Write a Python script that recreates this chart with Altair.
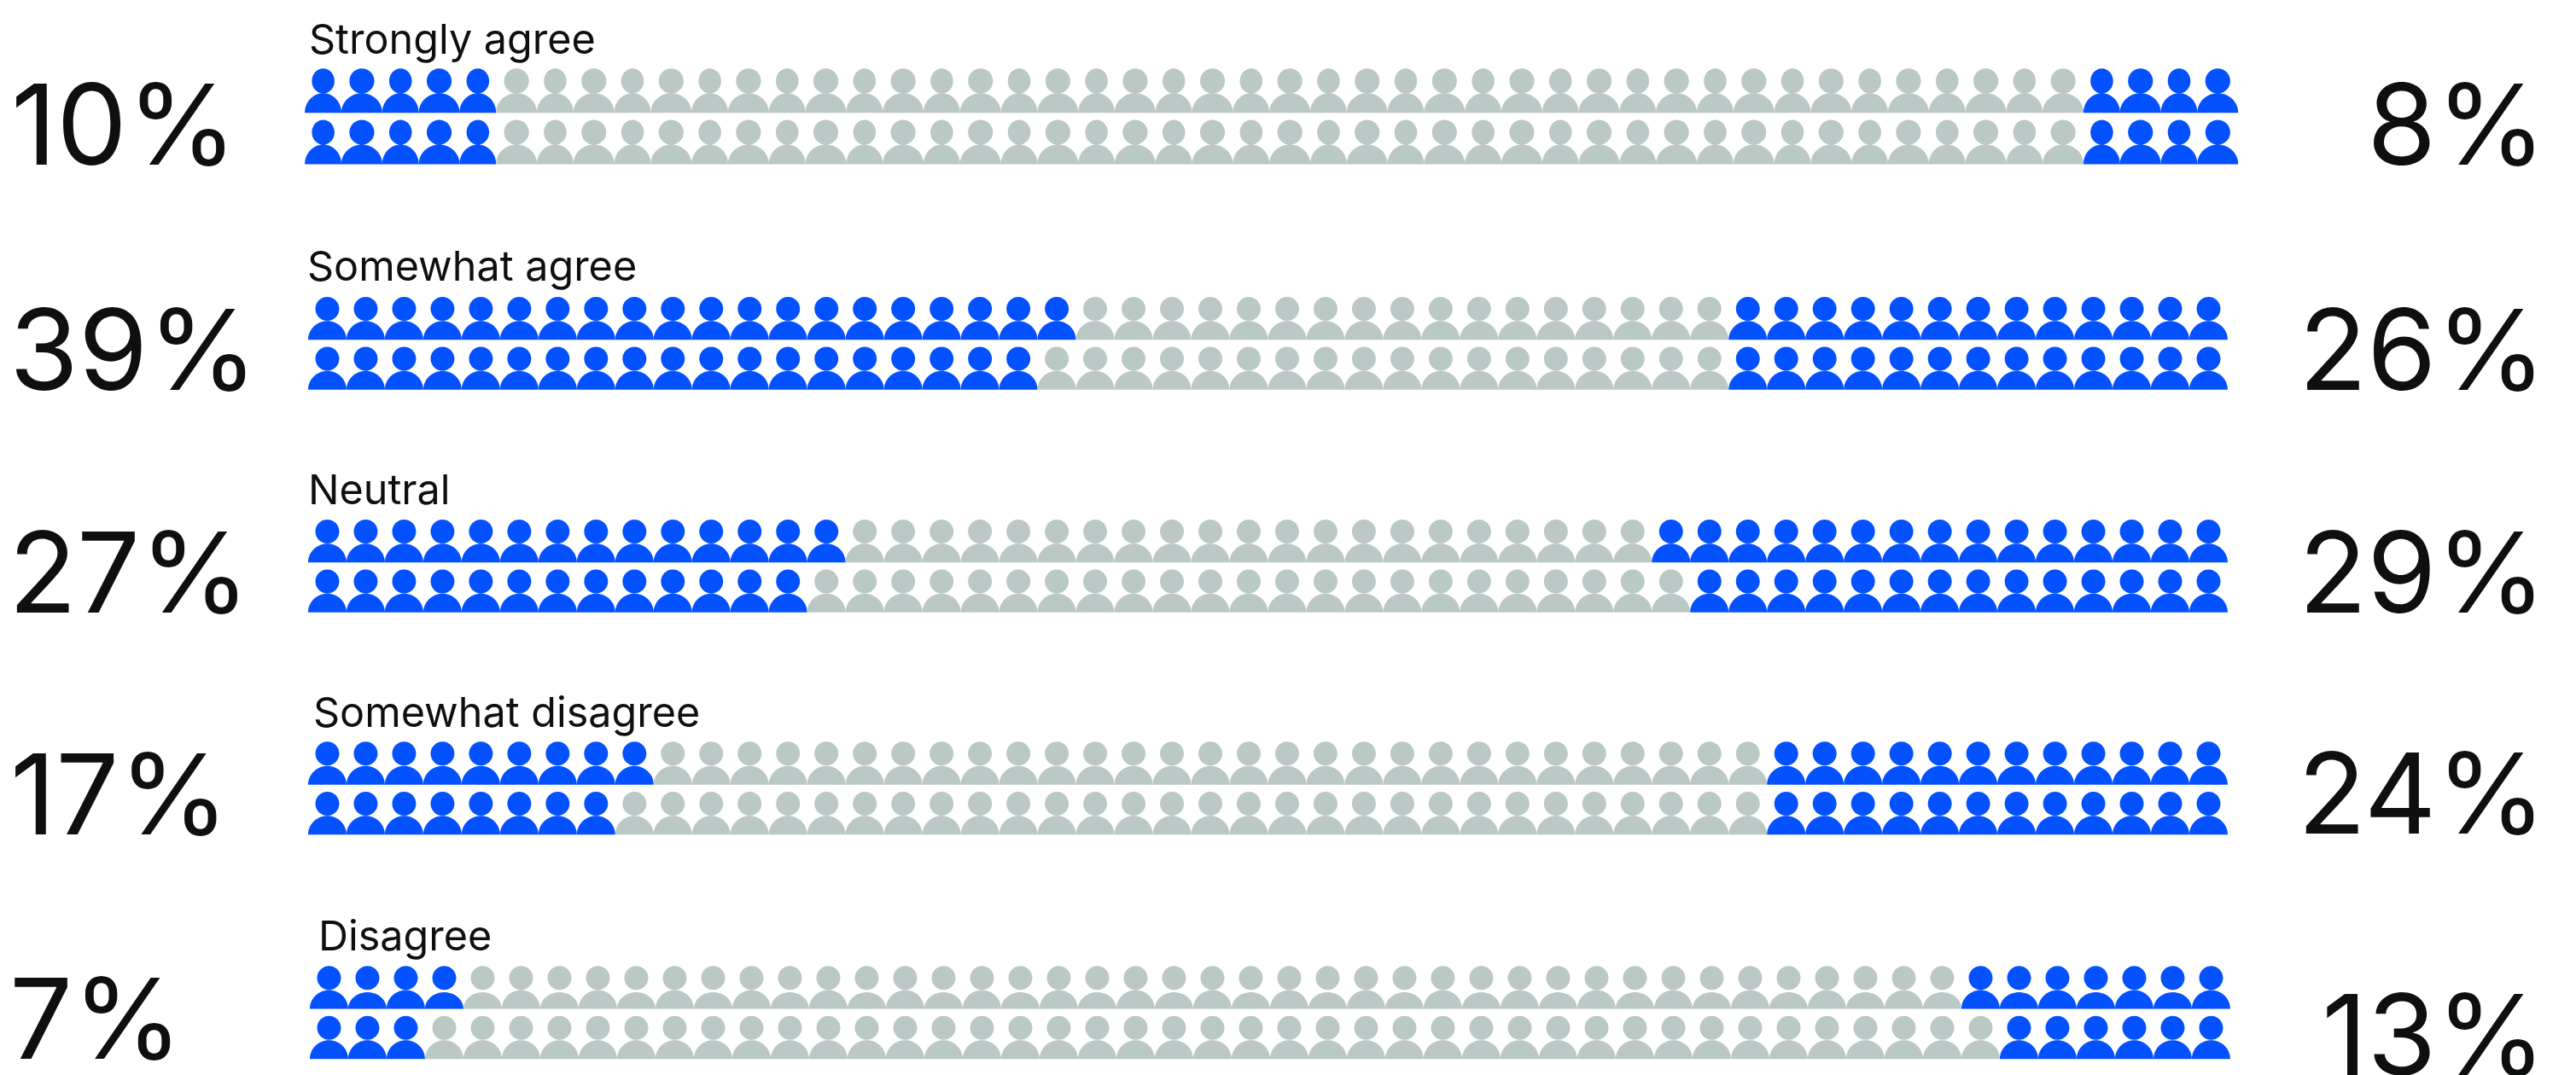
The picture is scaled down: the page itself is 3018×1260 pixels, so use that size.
import altair as alt
import pandas as pd

# ---- data ----
categories = ["Strongly agree", "Somewhat agree", "Neutral", "Somewhat disagree", "Disagree"]
left_pct = ["10%", "39%", "27%", "17%", "7%"]
right_pct = ["8%", "26%", "29%", "24%", "13%"]
left_top = [5, 20, 14, 9, 4]
left_bottom = [5, 19, 13, 8, 3]
right_top = [4, 13, 15, 12, 7]
right_bottom = [4, 13, 14, 12, 6]
people_per_lane = 50

# ---- layout (page pixels) ----
ORIGIN = 8
x_ranges = [(356, 2621), (361, 2610), (361, 2610), (361, 2610), (363, 2613)]
y_ranges = [(106.3, 166.5), (373.2, 431.7), (634.2, 692.7), (894.5, 953.2), (1157.4, 1216)]
label_x = [362, 360, 361, 367, 373]
label_y = [62.7, 329.3, 591, 852, 1114]
left_x = [13, 11, 10, 12, 11]
left_y = [193, 457, 718, 978, 1241]
right_x = [2983, 2983, 2983, 2983, 2983]
right_y = [193, 457, 718, 977, 1260]
BLUE, GREY, INK = "#0451ff", "#bac8c6", "#0d0f10"
FONT = "Inter"

K = 0.5523


def ell(cx, cy, rx, ry):
    return (f"M{cx-rx:.4f},{cy:.4f}"
            f"C{cx-rx:.4f},{cy-K*ry:.4f} {cx-K*rx:.4f},{cy-ry:.4f} {cx:.4f},{cy-ry:.4f}"
            f"C{cx+K*rx:.4f},{cy-ry:.4f} {cx+rx:.4f},{cy-K*ry:.4f} {cx+rx:.4f},{cy:.4f}"
            f"C{cx+rx:.4f},{cy+K*ry:.4f} {cx+K*rx:.4f},{cy+ry:.4f} {cx:.4f},{cy+ry:.4f}"
            f"C{cx-K*rx:.4f},{cy+ry:.4f} {cx-rx:.4f},{cy+K*ry:.4f} {cx-rx:.4f},{cy:.4f}Z")


def dome(cx, base, rx, ry):
    return (f"M{cx-rx:.4f},{base:.4f}"
            f"C{cx-rx:.4f},{base-K*ry:.4f} {cx-K*rx:.4f},{base-ry:.4f} {cx:.4f},{base-ry:.4f}"
            f"C{cx+K*rx:.4f},{base-ry:.4f} {cx+rx:.4f},{base-K*ry:.4f} {cx+rx:.4f},{base:.4f}Z")


def glyph(head_rx, head_ry, body_rx, body_ry, h):
    # pixel measures, 25 px = one path unit at size 2500
    top, base = -h / 2, h / 2
    return (ell(0, (top + head_ry) / 25, head_rx / 25, head_ry / 25)
            + dome(0, base / 25, body_rx / 25, body_ry / 25))


glyphs = {
    "regular": glyph(14, 14, 22.5, 22, 50.3),
    "narrow": glyph(13.3, 14.6, 21.5, 23, 52),
    "wide": glyph(14.6, 14.6, 24, 23, 52),
    "low": glyph(14, 14, 22.5, 19.5, 50.3),
}

rows = []
for r, cat in enumerate(categories):
    records = []
    for lane, (nl, nr) in enumerate([(left_top[r], right_top[r]),
                                     (left_bottom[r], right_bottom[r])]):
        for col in range(people_per_lane):
            blue = col < nl or col >= people_per_lane - nr
            if r == 0:
                g = "narrow" if col % 2 == 0 else "wide"
            elif r == 4 and lane == 0:
                g = "low" if (col % 2 == 1) == (col < 4) else "regular"
            else:
                g = "regular"
            records.append({"col": col + 0.5, "lane": lane,
                            "group": "highlight" if blue else "rest", "glyph": g})
    xr = x_ranges[r]
    yr = y_ranges[r]
    rows.append(
        alt.Chart(pd.DataFrame(records))
        .mark_point(filled=True, opacity=1, strokeWidth=0, size=2500)
        .encode(
            x=alt.X("col:Q", axis=None,
                    scale=alt.Scale(domain=[0, people_per_lane], nice=False, zero=False,
                                    range=[xr[0] - ORIGIN, xr[1] - ORIGIN])),
            y=alt.Y("lane:Q", axis=None,
                    scale=alt.Scale(domain=[0, 1], nice=False, zero=False,
                                    range=[yr[0] - ORIGIN, yr[1] - ORIGIN])),
            color=alt.Color("group:N", legend=None,
                            scale=alt.Scale(domain=["highlight", "rest"], range=[BLUE, GREY])),
            shape=alt.Shape("glyph:N", legend=None,
                            scale=alt.Scale(domain=list(glyphs), range=list(glyphs.values()))),
        )
    )


def text_layer(values, xs, ys, size, align):
    layers = []
    for v, x, y in zip(values, xs, ys):
        layers.append(
            alt.Chart(pd.DataFrame({"t": [v]}))
            .mark_text(font=FONT, fontSize=size, color=INK, align=align,
                       baseline="alphabetic")
            .encode(text="t:N", x=alt.value(x - ORIGIN), y=alt.value(y - ORIGIN))
        )
    return layers


texts = (text_layer(categories, label_x, label_y, 48.5, "left")
         + text_layer(left_pct, left_x, left_y, 131, "left")
         + text_layer(right_pct, right_x, right_y, 131, "right"))

chart = (
    alt.layer(*rows, *texts)
    .resolve_scale(x="independent", y="independent", color="shared", shape="shared")
    .properties(width=3002, height=1252, padding=0, autosize=alt.AutoSizeParams(type="none"))
    .configure_view(strokeWidth=0)
)

chart.save("out.html", embed_options={"renderer": "svg", "actions": False})
